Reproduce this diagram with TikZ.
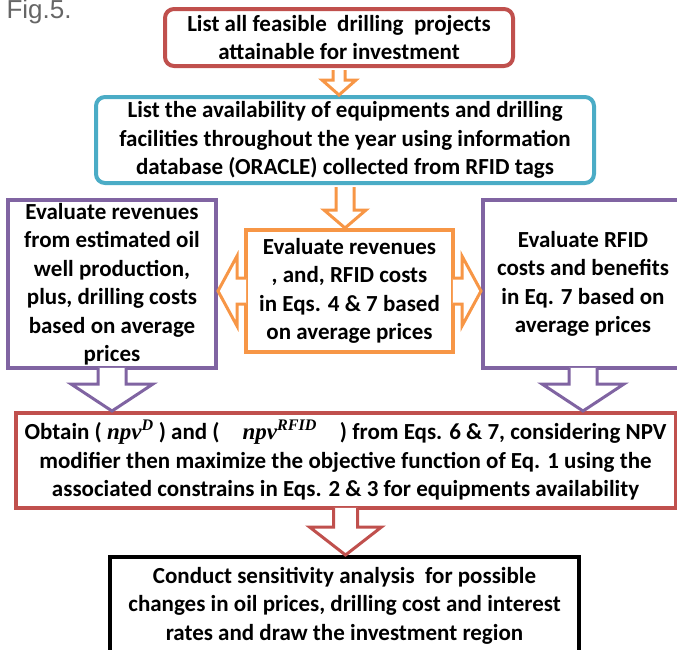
\documentclass[tikz,border=0pt]{standalone}
\usepackage{fontspec}
\setmainfont{Carlito}
\newfontfamily\figfont{Liberation Sans}
\newfontfamily\npvfont{Liberation Serif}
\usetikzlibrary{calc}

\definecolor{boxred}{HTML}{C0504D}
\definecolor{boxcyan}{HTML}{4BACC6}
\definecolor{boxpurple}{HTML}{8064A2}
\definecolor{boxorange}{HTML}{F79646}

\newcommand{\npv}[1]{{\npvfont\bfseries\itshape npv\textsuperscript{#1}}}
% hollow block arrow going down: colour, from, to, shaft half, head half, head length, start offset
\newcommand{\blockdown}[7]{%
  \draw[blockline,draw=#1] let \p1=(#2), \p2=(#3) in
    (\x1-#4pt,\y1+#7pt) -- (\x1-#4pt,\y2+#6pt) -- (\x1-#5pt,\y2+#6pt) -- (\x1,\y2)
    -- (\x1+#5pt,\y2+#6pt) -- (\x1+#4pt,\y2+#6pt) -- (\x1+#4pt,\y1+#7pt);}
% hollow block arrow going sideways, last argument 1 = right, -1 = left
\newcommand{\blockside}[8]{%
  \draw[blockline,draw=#1] let \p1=(#2), \p2=(#3), \n1={#8*#7}, \n2={#8*#6} in
    (\x1-\n1pt,\y1+#4pt) -- (\x2-\n2pt,\y1+#4pt) -- (\x2-\n2pt,\y1+#5pt) -- (\x2,\y1)
    -- (\x2-\n2pt,\y1-#5pt) -- (\x2-\n2pt,\y1-#4pt) -- (\x1-\n1pt,\y1-#4pt);}

\begin{document}
\begin{tikzpicture}[x=1pt,y=-1pt,
  box/.style={draw,line width=4pt,align=center,inner sep=0pt,
    font=\fontsize{23}{28.5}\selectfont\bfseries},
  roundbox/.style={box,rounded corners=9pt},
  blockline/.style={line width=3pt,fill=white,line join=miter}]
\clip (0,0) rectangle (677,649);
\node[anchor=base west,text=black!60,font=\figfont\fontsize{26}{30}\selectfont] (fig) at (3,18) {Fig.5.};

\node[roundbox,draw=boxred,minimum width=348pt,minimum height=57pt] (list) at (339,37.5)
  {List all feasible\ \ drilling\ \ projects\\attainable for investment};
\node[roundbox,draw=boxcyan,minimum width=498pt,minimum height=86pt] (avail) at (345,140)
  {List the availability of equipments and drilling\\facilities throughout the year using information\\database (ORACLE) collected from RFID tags};
\node[box,draw=boxpurple,minimum width=208pt,minimum height=168pt] (revenue) at (112,284)
  {Evaluate revenues\\from estimated oil\\well production,\\plus, drilling costs\\based on average\\prices};
\node[box,draw=boxorange,minimum width=207pt,minimum height=122pt] (eval) at (349.5,291)
  {Evaluate revenues\\, and, RFID costs\\in Eqs. 4 \& 7 based\\on average prices};
\node[box,draw=boxpurple,minimum width=200pt,minimum height=168pt] (rfid) at (583,284)
  {Evaluate RFID\\costs and benefits\\in Eq. 7 based on\\average prices};
\node[box,draw=boxred,minimum width=660pt,minimum height=95pt] (obtain) at (345.5,460.5)
  {Obtain ( \npv{D} ) and (\quad\npv{RFID}\quad) from Eqs. 6 \& 7, considering NPV\\modifier then maximize the objective function of Eq. 1 using the\\associated constrains in Eqs. 2 \& 3 for equipments availability};
\node[box,draw=black,anchor=north,minimum width=469pt,inner ysep=10pt,text depth=100pt] (sens) at (344.5,555)
  {Conduct sensitivity analysis\ \ for possible\\changes in oil prices, drilling cost and interest\\rates and draw the investment region};

\blockdown{boxorange}{list.south}{avail.north}{6}{17}{15}{-2}
\blockdown{boxorange}{avail.south}{eval.north}{9}{21}{18}{-2}
\blockside{boxorange}{eval.west}{revenue.east}{13}{35}{19}{2.2}{-1}
\blockside{boxorange}{eval.east}{rfid.west}{13}{35}{19}{2.2}{1}
\blockdown{boxpurple}{revenue.south}{obtain.north}{14}{41}{27}{2.2}
\blockdown{boxpurple}{rfid.south}{obtain.north}{14}{41}{27}{2.2}
\blockdown{boxred}{obtain.south}{sens.north}{12}{36}{28}{2.2}
\end{tikzpicture}
\end{document}
